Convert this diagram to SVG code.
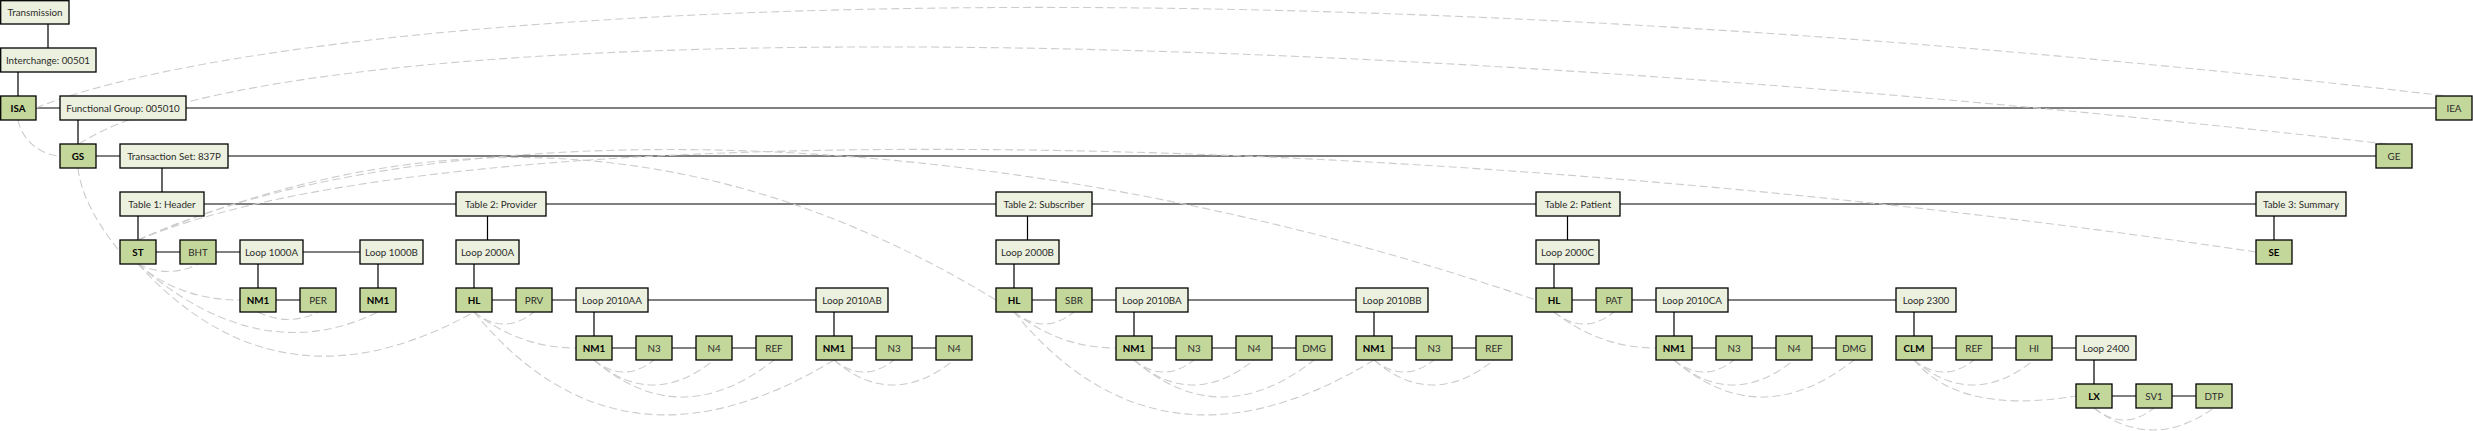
<svg xmlns="http://www.w3.org/2000/svg" width="2473" height="431" viewBox="0 0 2473 431">
<style>
.bg{fill:#ffffff}
.s{stroke:#000;stroke-width:1.2;fill:none}
.d{stroke:#cccccc;stroke-width:1.1;fill:none;stroke-dasharray:8 4}
.l{fill:#ebf1de;stroke:#000;stroke-width:1.3}
.k{fill:#c4d79b;stroke:#000;stroke-width:1.3}
text{font-family:Lato,"Liberation Sans",sans-serif;font-size:9.8px;text-anchor:middle;fill:#2b2b2b}
text.b{font-weight:bold;fill:#000}
</style>
<rect class="bg" x="0" y="0" width="2473" height="431"/>
<g id="connectors">
<g id="tree-lines">
<path class="s" d="M48,24V48M18,72V96M78,120V144M162,168V192M138,216V240M258,264V288M378,264V288M487.5,216V240M474,264V288M594,312V336M834,312V336M1027.5,216V240M1014,264V288M1134,312V336M1374,312V336M1567.5,216V240M1554,264V288M1674,312V336M1914,312V336M2094,360V384M2274,216V240"/>
<path class="s" d="M36,108H60M186,108H2436M96,156H120M228,156H2376M204,204H456M546,204H996M1092,204H1536M1620,204H2256M156,252H180M216,252H240M303,252H360"/>
<path class="s" d="M276,300H300M492,300H516M552,300H576M648,300H816M1032,300H1056M1092,300H1116M1188,300H1356M1572,300H1596M1632,300H1656M1728,300H1896"/>
<path class="s" d="M612,348H636M672,348H696M732,348H756M852,348H876M912,348H936M1152,348H1176M1212,348H1236M1272,348H1296M1392,348H1416M1452,348H1476M1692,348H1716M1752,348H1776M1812,348H1836M1932,348H1956M1992,348H2016M2052,348H2076M2112,396H2136M2172,396H2196"/>
</g>
<g id="dependency-curves">
<path class="d" d="M18,120 C22,140 40,155 60,156"/>
<path class="d" d="M36,108 C250,20 1100,-60 2447,96"/>
<path class="d" d="M78,168 Q82,205 120,252"/>
<path class="d" d="M79,144 C250,30 1100,0 2387,144"/>
<path class="d" d="M138,240 C350,150 650,90 996,300"/>
<path class="d" d="M138,240 C400,120 950,100 1536,300"/>
<path class="d" d="M138,240 C450,110 1400,125 2256,252"/>
<path class="d" d="M138,264 Q168,279 198,264"/>
<path class="d" d="M138,264 Q180,300 240,300"/>
<path class="d" d="M258,312 Q288,327 318,312"/>
<path class="d" d="M138,264 Q260,370 378,312"/>
<path class="d" d="M138,264 Q280,420 474,312"/>
<path class="d" d="M474,312 Q504,336 534,312"/>
<path class="d" d="M474,312 Q520,348 576,348"/>
<path class="d" d="M474,312 Q620,490 834,360"/>
<path class="d" d="M594,360 Q624,384 654,360"/>
<path class="d" d="M594,360 Q652,410 714,360"/>
<path class="d" d="M594,360 Q680,434 774,360"/>
<path class="d" d="M834,360 Q864,384 894,360"/>
<path class="d" d="M834,360 Q892,410 954,360"/>
<path class="d" d="M1014,312 Q1044,336 1074,312"/>
<path class="d" d="M1014,312 Q1060,348 1116,348"/>
<path class="d" d="M1014,312 Q1160,490 1374,360"/>
<path class="d" d="M1134,360 Q1164,384 1194,360"/>
<path class="d" d="M1134,360 Q1192,410 1254,360"/>
<path class="d" d="M1134,360 Q1220,434 1314,360"/>
<path class="d" d="M1374,360 Q1404,384 1434,360"/>
<path class="d" d="M1374,360 Q1432,410 1494,360"/>
<path class="d" d="M1554,312 Q1584,336 1614,312"/>
<path class="d" d="M1554,312 Q1600,348 1656,348"/>
<path class="d" d="M1674,360 Q1704,384 1734,360"/>
<path class="d" d="M1674,360 Q1732,410 1794,360"/>
<path class="d" d="M1674,360 Q1760,434 1854,360"/>
<path class="d" d="M1914,360 Q1944,384 1974,360"/>
<path class="d" d="M1914,360 Q1972,410 2034,360"/>
<path class="d" d="M1914,360 Q1960,415 2076,396"/>
<path class="d" d="M2094,408 Q2124,432 2154,408"/>
<path class="d" d="M2094,408 Q2152,452 2214,408"/>
</g>
</g>
<g id="n-transmission"><rect class="l" x="0.7" y="0.7" width="68.3" height="23.3"/><text x="35" y="15.8">Transmission</text></g>
<g id="n-interchange"><rect class="l" x="0.7" y="48" width="95.3" height="24"/><text x="48" y="63.8">Interchange: 00501</text></g>
<g id="n-isa"><rect class="k" x="0.7" y="96" width="35.3" height="24"/><text class="b" x="18" y="111.8">ISA</text></g>
<g id="n-fg"><rect class="l" x="60" y="96" width="126" height="24"/><text x="123" y="111.8">Functional Group: 005010</text></g>
<g id="n-iea"><rect class="k" x="2436" y="96" width="36" height="24"/><text x="2454" y="111.8">IEA</text></g>
<g id="n-gs"><rect class="k" x="60" y="144" width="36" height="24"/><text class="b" x="78" y="159.8">GS</text></g>
<g id="n-ts"><rect class="l" x="120" y="144" width="108" height="24"/><text x="174" y="159.8">Transaction Set: 837P</text></g>
<g id="n-ge"><rect class="k" x="2376" y="144" width="36" height="24"/><text x="2394" y="159.8">GE</text></g>
<g id="n-t1"><rect class="l" x="120" y="192" width="84" height="24"/><text x="162" y="207.8">Table 1: Header</text></g>
<g id="n-t2p"><rect class="l" x="456" y="192" width="90" height="24"/><text x="501" y="207.8">Table 2: Provider</text></g>
<g id="n-t2s"><rect class="l" x="996" y="192" width="96" height="24"/><text x="1044" y="207.8">Table 2: Subscriber</text></g>
<g id="n-t2pt"><rect class="l" x="1536" y="192" width="84" height="24"/><text x="1578" y="207.8">Table 2: Patient</text></g>
<g id="n-t3"><rect class="l" x="2256" y="192" width="90" height="24"/><text x="2301" y="207.8">Table 3: Summary</text></g>
<g id="n-st"><rect class="k" x="120" y="240" width="36" height="24"/><text class="b" x="138" y="255.8">ST</text></g>
<g id="n-bht"><rect class="k" x="180" y="240" width="36" height="24"/><text x="198" y="255.8">BHT</text></g>
<g id="n-l1000a"><rect class="l" x="240" y="240" width="63" height="24"/><text x="271.5" y="255.8">Loop 1000A</text></g>
<g id="n-l1000b"><rect class="l" x="360" y="240" width="63" height="24"/><text x="391.5" y="255.8">Loop 1000B</text></g>
<g id="n-l2000a"><rect class="l" x="456" y="240" width="63" height="24"/><text x="487.5" y="255.8">Loop 2000A</text></g>
<g id="n-l2000b"><rect class="l" x="996" y="240" width="63" height="24"/><text x="1027.5" y="255.8">Loop 2000B</text></g>
<g id="n-l2000c"><rect class="l" x="1536" y="240" width="63" height="24"/><text x="1567.5" y="255.8">Loop 2000C</text></g>
<g id="n-se"><rect class="k" x="2256" y="240" width="36" height="24"/><text class="b" x="2274" y="255.8">SE</text></g>
<g id="n-nm1-1000a"><rect class="k" x="240" y="288" width="36" height="24"/><text class="b" x="258" y="303.8">NM1</text></g>
<g id="n-per"><rect class="k" x="300" y="288" width="36" height="24"/><text x="318" y="303.8">PER</text></g>
<g id="n-nm1-1000b"><rect class="k" x="360" y="288" width="36" height="24"/><text class="b" x="378" y="303.8">NM1</text></g>
<g id="n-hl-a"><rect class="k" x="456" y="288" width="36" height="24"/><text class="b" x="474" y="303.8">HL</text></g>
<g id="n-prv"><rect class="k" x="516" y="288" width="36" height="24"/><text x="534" y="303.8">PRV</text></g>
<g id="n-l2010aa"><rect class="l" x="576" y="288" width="72" height="24"/><text x="612" y="303.8">Loop 2010AA</text></g>
<g id="n-l2010ab"><rect class="l" x="816" y="288" width="72" height="24"/><text x="852" y="303.8">Loop 2010AB</text></g>
<g id="n-hl-b"><rect class="k" x="996" y="288" width="36" height="24"/><text class="b" x="1014" y="303.8">HL</text></g>
<g id="n-sbr"><rect class="k" x="1056" y="288" width="36" height="24"/><text x="1074" y="303.8">SBR</text></g>
<g id="n-l2010ba"><rect class="l" x="1116" y="288" width="72" height="24"/><text x="1152" y="303.8">Loop 2010BA</text></g>
<g id="n-l2010bb"><rect class="l" x="1356" y="288" width="72" height="24"/><text x="1392" y="303.8">Loop 2010BB</text></g>
<g id="n-hl-c"><rect class="k" x="1536" y="288" width="36" height="24"/><text class="b" x="1554" y="303.8">HL</text></g>
<g id="n-pat"><rect class="k" x="1596" y="288" width="36" height="24"/><text x="1614" y="303.8">PAT</text></g>
<g id="n-l2010ca"><rect class="l" x="1656" y="288" width="72" height="24"/><text x="1692" y="303.8">Loop 2010CA</text></g>
<g id="n-l2300"><rect class="l" x="1896" y="288" width="60" height="24"/><text x="1926" y="303.8">Loop 2300</text></g>
<g id="n-nm1-aa"><rect class="k" x="576" y="336" width="36" height="24"/><text class="b" x="594" y="351.8">NM1</text></g>
<g id="n-n3-aa"><rect class="k" x="636" y="336" width="36" height="24"/><text x="654" y="351.8">N3</text></g>
<g id="n-n4-aa"><rect class="k" x="696" y="336" width="36" height="24"/><text x="714" y="351.8">N4</text></g>
<g id="n-ref-aa"><rect class="k" x="756" y="336" width="36" height="24"/><text x="774" y="351.8">REF</text></g>
<g id="n-nm1-ab"><rect class="k" x="816" y="336" width="36" height="24"/><text class="b" x="834" y="351.8">NM1</text></g>
<g id="n-n3-ab"><rect class="k" x="876" y="336" width="36" height="24"/><text x="894" y="351.8">N3</text></g>
<g id="n-n4-ab"><rect class="k" x="936" y="336" width="36" height="24"/><text x="954" y="351.8">N4</text></g>
<g id="n-nm1-ba"><rect class="k" x="1116" y="336" width="36" height="24"/><text class="b" x="1134" y="351.8">NM1</text></g>
<g id="n-n3-ba"><rect class="k" x="1176" y="336" width="36" height="24"/><text x="1194" y="351.8">N3</text></g>
<g id="n-n4-ba"><rect class="k" x="1236" y="336" width="36" height="24"/><text x="1254" y="351.8">N4</text></g>
<g id="n-dmg-ba"><rect class="k" x="1296" y="336" width="36" height="24"/><text x="1314" y="351.8">DMG</text></g>
<g id="n-nm1-bb"><rect class="k" x="1356" y="336" width="36" height="24"/><text class="b" x="1374" y="351.8">NM1</text></g>
<g id="n-n3-bb"><rect class="k" x="1416" y="336" width="36" height="24"/><text x="1434" y="351.8">N3</text></g>
<g id="n-ref-bb"><rect class="k" x="1476" y="336" width="36" height="24"/><text x="1494" y="351.8">REF</text></g>
<g id="n-nm1-ca"><rect class="k" x="1656" y="336" width="36" height="24"/><text class="b" x="1674" y="351.8">NM1</text></g>
<g id="n-n3-ca"><rect class="k" x="1716" y="336" width="36" height="24"/><text x="1734" y="351.8">N3</text></g>
<g id="n-n4-ca"><rect class="k" x="1776" y="336" width="36" height="24"/><text x="1794" y="351.8">N4</text></g>
<g id="n-dmg-ca"><rect class="k" x="1836" y="336" width="36" height="24"/><text x="1854" y="351.8">DMG</text></g>
<g id="n-clm"><rect class="k" x="1896" y="336" width="36" height="24"/><text class="b" x="1914" y="351.8">CLM</text></g>
<g id="n-ref-2300"><rect class="k" x="1956" y="336" width="36" height="24"/><text x="1974" y="351.8">REF</text></g>
<g id="n-hi"><rect class="k" x="2016" y="336" width="36" height="24"/><text x="2034" y="351.8">HI</text></g>
<g id="n-l2400"><rect class="l" x="2076" y="336" width="60" height="24"/><text x="2106" y="351.8">Loop 2400</text></g>
<g id="n-lx"><rect class="k" x="2076" y="384" width="36" height="24"/><text class="b" x="2094" y="399.8">LX</text></g>
<g id="n-sv1"><rect class="k" x="2136" y="384" width="36" height="24"/><text x="2154" y="399.8">SV1</text></g>
<g id="n-dtp"><rect class="k" x="2196" y="384" width="36" height="24"/><text x="2214" y="399.8">DTP</text></g>
</svg>
